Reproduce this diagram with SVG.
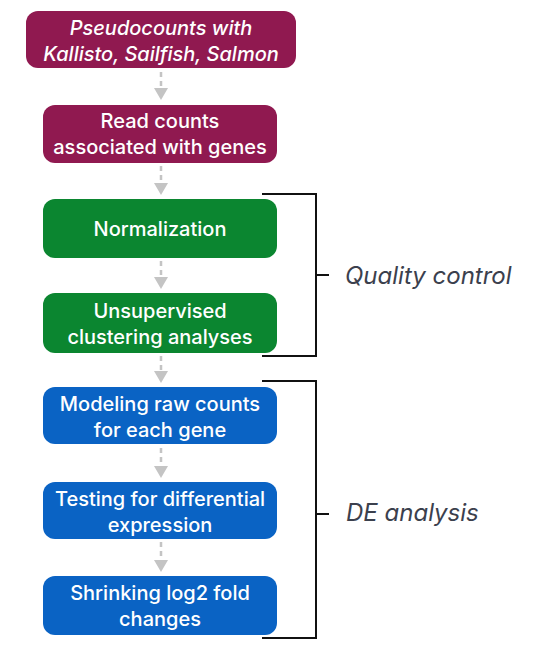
<svg xmlns="http://www.w3.org/2000/svg" width="534" height="654" viewBox="0 0 534 654">
<defs>
<style>
.box{stroke:none}
.maroon{fill:#901950}
.green{fill:#0b8630}
.blue{fill:#0a63c4}
.t{font-family:Inter,"Liberation Sans",Arial,sans-serif;font-size:20px;font-weight:500;fill:#ffffff;text-anchor:middle}
.it{font-style:italic}
.lab{font-family:Inter,"Liberation Sans",Arial,sans-serif;font-size:24px;font-style:italic;fill:#3b404d}
.arr{stroke:#c4c4c4;stroke-width:2.5;stroke-dasharray:5,4;fill:none}
.head{fill:#c4c4c4}
.br{stroke:#111111;stroke-width:2;fill:none}
</style>
</defs>
<rect width="534" height="654" fill="#ffffff"/>
<g id="connectors">
<line class="arr" x1="161" y1="72" x2="161" y2="88"/><path class="head" d="M154,88 L168,88 L161,100 Z"/>
<line class="arr" x1="161" y1="166" x2="161" y2="183"/><path class="head" d="M154,183 L168,183 L161,195 Z"/>
<line class="arr" x1="161" y1="261" x2="161" y2="277"/><path class="head" d="M154,277 L168,277 L161,289 Z"/>
<line class="arr" x1="161" y1="356" x2="161" y2="371"/><path class="head" d="M154,371 L168,371 L161,383 Z"/>
<line class="arr" x1="161" y1="448" x2="161" y2="466"/><path class="head" d="M154,466 L168,466 L161,478 Z"/>
<line class="arr" x1="161" y1="542" x2="161" y2="560"/><path class="head" d="M154,560 L168,560 L161,572 Z"/>
</g>
<g id="node-pseudocounts">
<rect class="box maroon" x="26" y="11" width="270" height="57" rx="12"/>
<text class="t it" x="161" y="35">Pseudocounts with</text>
<text class="t it" x="161" y="61">Kallisto, Sailfish, Salmon</text>
</g>
<g id="node-readcounts">
<rect class="box maroon" x="43" y="105" width="234" height="58" rx="12"/>
<text class="t" x="160" y="128">Read counts</text>
<text class="t" x="160" y="154">associated with genes</text>
</g>
<g id="node-normalization">
<rect class="box green" x="43" y="199" width="234" height="59" rx="12"/>
<text class="t" x="160" y="236">Normalization</text>
</g>
<g id="node-clustering">
<rect class="box green" x="43" y="293" width="234" height="60" rx="12"/>
<text class="t" x="160" y="318">Unsupervised</text>
<text class="t" x="160" y="344">clustering analyses</text>
</g>
<g id="node-modeling">
<rect class="box blue" x="43" y="387" width="234" height="57" rx="12"/>
<text class="t" x="160" y="411">Modeling raw counts</text>
<text class="t" x="160" y="437">for each gene</text>
</g>
<g id="node-testing">
<rect class="box blue" x="43" y="482" width="234" height="57" rx="12"/>
<text class="t" x="160" y="506">Testing for differential</text>
<text class="t" x="160" y="532">expression</text>
</g>
<g id="node-shrinking">
<rect class="box blue" x="43" y="576" width="234" height="59" rx="12"/>
<text class="t" x="160" y="600">Shrinking log2 fold</text>
<text class="t" x="160" y="626">changes</text>
</g>
<g id="bracket-qc">
<path class="br" d="M262,194 H316 V356 H262 M316,275 H329"/>
<text class="lab" x="345" y="284">Quality control</text>
</g>
<g id="bracket-de">
<path class="br" d="M262,381 H316 V638 H262 M316,514 H329"/>
<text class="lab" x="346" y="521">DE analysis</text>
</g>
</svg>
